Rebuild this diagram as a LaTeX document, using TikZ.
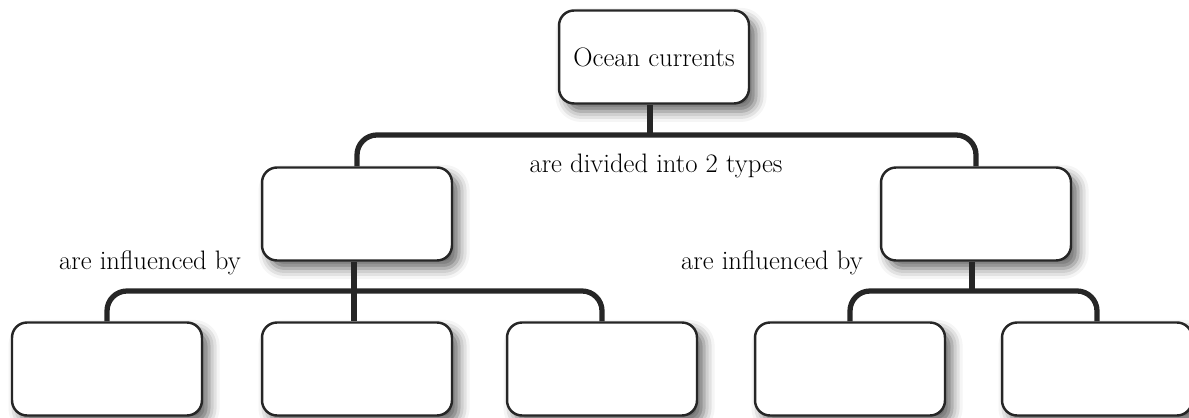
\documentclass[tikz,border=0pt]{standalone}
\usetikzlibrary{shadows.blur}
\begin{document}
\begin{tikzpicture}[x=0.02cm, y=-0.02cm,
  box/.style={shape=rectangle, rounded corners=0.3cm, draw=black!85, line width=1.4pt, fill=white,
    minimum width=3.8cm, minimum height=1.86cm,
    blur shadow={shadow xshift=4pt, shadow yshift=-4.5pt, shadow blur radius=6pt, shadow opacity=60}},
  link/.style={draw=black!85, line width=3pt, rounded corners=0.4cm},
  words/.style={font=\fontsize{15.2}{18}\selectfont}]
\useasboundingbox (0,0) rectangle (1189,418);
\node[box, words] (ocean) at (654, 57) {Ocean currents};
\node[box] (typeA) at (357, 214) {};
\node[box] (typeB) at (976, 214) {};
\node[box] (a1) at (107, 369) {};
\node[box] (a2) at (357, 369) {};
\node[box] (a3) at (602, 369) {};
\node[box] (b1) at (850, 369) {};
\node[box] (b2) at (1097, 369) {};
\coordinate (split) at (650, 135);
\coordinate (splitA) at (354, 291);
\coordinate (splitB) at (972, 291);
\node[words] (divided) at (656, 166) {are divided into 2 types};
\node[words] (inflA) at (150, 263) {are influenced by};
\node[words] (inflB) at (772, 263) {are influenced by};
\path [link] (ocean.south -| split) -- (split);
\path [link] (typeA.north) |- (split) -| (typeB.north);
\path [link] (typeA.south -| splitA) -- (a2.north -| splitA);
\path [link] (a1.north) |- (splitA) -| (a3.north);
\path [link] (typeB.south -| splitB) -- (splitB);
\path [link] (b1.north) |- (splitB) -| (b2.north);
\end{tikzpicture}
\end{document}
